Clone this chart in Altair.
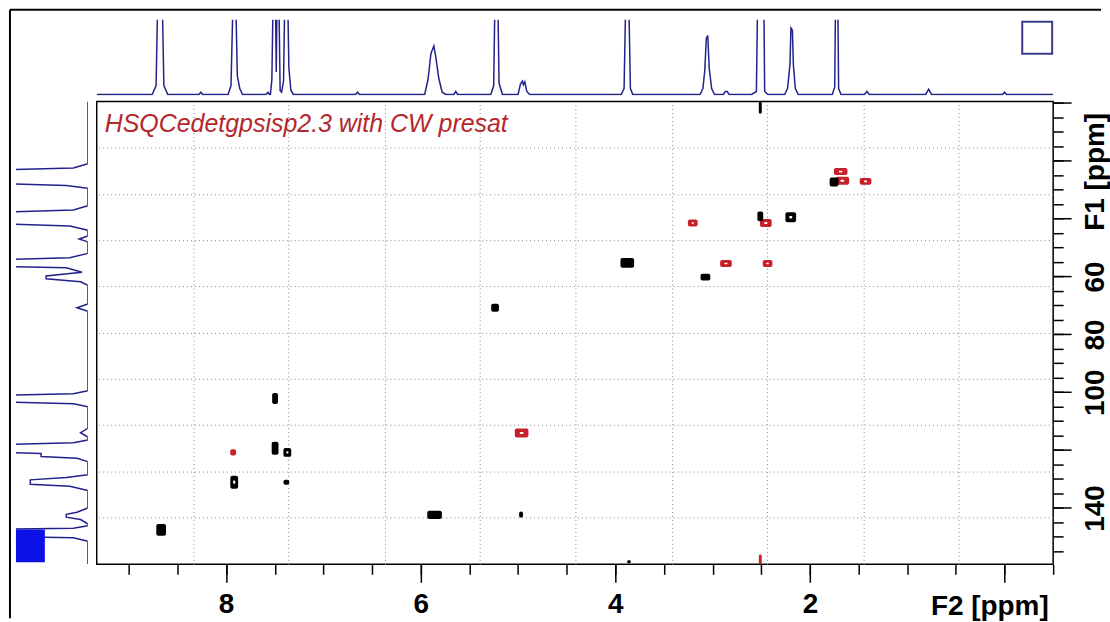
import altair as alt
import pandas as pd

# ---------------- data ----------------
plot_title = "HSQCedetgpsisp2.3 with CW presat"

# positive (black) cross peaks: F2 ppm, F1 ppm, extent in F2 / F1 (ppm)
black_f2 = [2.51, 2.197, 1.752, 3.877, 3.074, 5.236, 7.497, 7.497, 7.371, 7.917, 7.381, 5.858, 4.969, 8.668, 3.86, 2.51]
black_f1 = [39.2, 39.5, 27.3, 55.3, 60.2, 70.8, 102.2, 119.4, 120.8, 131.1, 131.1, 142.4, 142.3, 147.6, 158.6, 1.6]
black_w2 = [0.06, 0.11, 0.09, 0.14, 0.10, 0.08, 0.06, 0.07, 0.08, 0.08, 0.06, 0.15, 0.04, 0.10, 0.04, 0.03]
black_w1 = [3.4, 3.4, 3.1, 3.4, 2.4, 2.8, 3.8, 4.5, 3.1, 4.5, 1.7, 2.8, 2.1, 4.1, 1.0, 4.2]
black_ring = [0, 1, 0, 0, 0, 0, 0, 0, 1, 1, 0, 0, 0, 0, 0, 0]

# negative (red) cross peaks
red_f2 = [1.684, 1.667, 1.428, 3.204, 2.453, 2.863, 2.435, 4.963, 7.928, 2.51]
red_f1 = [23.7, 26.9, 27.1, 41.5, 41.5, 55.5, 55.5, 114.1, 120.8, 157.8]
red_w2 = [0.14, 0.14, 0.12, 0.10, 0.12, 0.12, 0.10, 0.14, 0.06, 0.03]
red_w1 = [2.4, 2.8, 2.4, 2.4, 2.8, 2.4, 2.4, 3.1, 2.1, 3.4]
red_ring = [1, 1, 1, 1, 1, 1, 1, 1, 0, 0]

# axis tick values / grid positions
f2_major = [8, 6, 4, 2, 0]
f2_minor = [9.0, 8.5, 8.0, 7.5, 7.0, 6.5, 6.0, 5.5, 5.0, 4.5, 4.0, 3.5, 3.0, 2.5, 2.0, 1.5, 1.0, 0.5, 0.0, -0.5]
f1_major = [0, 20, 40, 60, 80, 100, 120, 140]
f1_minor = [0, 5, 10, 15, 20, 25, 30, 35, 40, 45, 50, 55, 60, 65, 70, 75, 80, 85, 90, 95,
            100, 105, 110, 115, 120, 125, 130, 135, 140, 145, 150, 155]
f1_labels = [60, 80, 100, 140]
grid_f2 = [8.34, 7.36, 6.37, 5.39, 4.41, 3.42, 2.44, 1.45, 0.47]
grid_f1 = [15.5, 31.5, 47.4, 63.4, 79.4, 95.3, 111.3, 127.3, 143.2]

# top 1D projection (F2): vertices ppm / intensity
top_ppm = [
    9.33,
    8.76, 8.72, 8.70, 8.66, 8.64, 8.60,
    8.28, 8.26, 8.24,
    7.98, 7.95, 7.925, 7.905, 7.885, 7.86, 7.83,
    7.59, 7.57, 7.555,
    7.545, 7.53, 7.515, 7.495, 7.485, 7.475, 7.46, 7.445, 7.43, 7.41, 7.395, 7.37, 7.355, 7.335, 7.31,
    6.67, 6.65, 6.63,
    5.96, 5.925, 5.895, 5.865, 5.845, 5.815, 5.78, 5.74,
    5.66, 5.64, 5.62,
    5.28, 5.25, 5.235, 5.21, 5.195, 5.16,
    5.00, 4.975, 4.955, 4.945, 4.93, 4.91, 4.88,
    3.94, 3.91, 3.89, 3.865, 3.845, 3.82,
    3.13, 3.10, 3.08, 3.065, 3.05, 3.035, 3.01, 2.98,
    2.89, 2.87, 2.85, 2.83,
    2.60, 2.55, 2.535, 2.475, 2.465, 2.43,
    2.26, 2.23, 2.205, 2.195, 2.18, 2.17, 2.15, 2.12,
    1.77, 1.745, 1.735, 1.715, 1.705, 1.68,
    1.44, 1.415, 1.39,
    0.81, 0.78, 0.75,
    0.02, 0.00, -0.02,
    -0.50]
top_int = [
    0,
    0, 12, 150, 150, 12, 0,
    0, 3, 0,
    0, 12, 150, 150, 25, 8, 0,
    0, 3, 0,
    0, 20, 150, 150, 30, 150, 150, 5, 3, 18, 150, 150, 35, 6, 0,
    0, 3, 0,
    0, 20, 55, 65, 50, 22, 3, 0,
    0, 4, 0,
    0, 12, 150, 150, 15, 0,
    0, 14, 18, 13, 17, 4, 0,
    0, 8, 150, 150, 8, 0,
    0, 8, 33, 75, 79, 35, 8, 0,
    0, 4, 4, 0,
    0, 4, 150, 150, 4, 0,
    0, 8, 40, 89, 86, 40, 8, 0,
    0, 10, 150, 150, 8, 0,
    0, 4, 0,
    0, 7, 0,
    0, 3, 0,
    0]

# left 1D projection (F1): vertices ppm / intensity
left_f1 = [
    -0.5,
    21.0, 22.5, 23.3, 27.6, 28.5, 29.5,
    35.5, 37.0, 38.0, 41.5, 42.5, 44.0,
    46.0, 47.0, 48.0,
    52.0, 53.5, 54.3, 56.3, 57.0, 58.5, 59.8, 60.8, 61.8, 63.0,
    69.5, 70.8, 72.0,
    99.5, 100.5, 101.2, 103.2, 104.0, 105.0,
    112.5, 114.0, 115.5,
    116.5, 117.5, 118.3, 120.6, 121.2, 122.2, 122.8, 124.0,
    128.5, 129.5, 130.3, 131.8, 132.5, 134.0,
    140.0, 141.5, 142.2, 143.2, 144.0, 145.5,
    146.2, 147.0, 147.4, 149.8, 150.3, 151.5,
    159.5]
left_int = [
    0,
    0, 20, 150, 150, 30, 0,
    0, 20, 150, 150, 25, 0,
    0, 12, 0,
    0, 25, 150, 150, 30, 8, 58, 58, 10, 0,
    0, 15, 0,
    0, 20, 150, 150, 20, 0,
    0, 10, 0,
    0, 20, 150, 150, 65, 65, 15, 0,
    0, 30, 80, 80, 25, 0,
    0, 15, 30, 30, 10, 0,
    0, 20, 150, 150, 20, 0,
    0]

# ---------------- tables ----------------
f2 = red_f2 + black_f2
f1 = red_f1 + black_f1
w2 = red_w2 + black_w2
w1 = red_w1 + black_w1
ring = red_ring + black_ring
sign = ["neg"] * len(red_f2) + ["pos"] * len(black_f2)
peaks = pd.DataFrame({"f2": f2, "f1": f1, "w2": w2, "w1": w1, "ring": ring, "sign": sign})
peaks["x0"] = peaks.f2 + peaks.w2 / 2
peaks["x1"] = peaks.f2 - peaks.w2 / 2
peaks["y0"] = peaks.f1 - peaks.w1 / 2
peaks["y1"] = peaks.f1 + peaks.w1 / 2
rings = peaks[peaks.ring == 1].copy()
rings["ix0"] = rings.f2 + rings.w2 * 0.14
rings["ix1"] = rings.f2 - rings.w2 * 0.14
rings["iy0"] = rings.f1 - rings.w1 * 0.12
rings["iy1"] = rings.f1 + rings.w1 * 0.12

top_df = pd.DataFrame({"ppm": top_ppm, "inten": top_int, "idx": range(len(top_ppm))})
left_df = pd.DataFrame({"f1": left_f1, "inten": left_int, "idx": range(len(left_f1))})
one = pd.DataFrame({"k": [0]})

NAVY = "#22228a"
FONT = "Liberation Sans"
W, H = 959, 464
TOP_H, LEFT_W = 76, 72

xs = alt.Scale(domain=[-0.5, 9.33], reverse=True, nice=False, zero=False)
ys = alt.Scale(domain=[-0.5, 159.5], reverse=True, nice=False, zero=False)

# ---------------- main 2D panel ----------------
base = alt.Chart(peaks)
gridkw = dict(grid=True, ticks=False, labels=False, domain=False, title=None,
              gridDash=[1, 3], gridColor="#858585", gridWidth=1)
grid = base.mark_point(opacity=0).encode(
    x=alt.X("f2:Q", scale=xs, axis=alt.Axis(orient="bottom", values=grid_f2, **gridkw)),
    y=alt.Y("f1:Q", scale=ys, axis=alt.Axis(orient="left", values=grid_f1, **gridkw)),
)
minorkw = dict(grid=False, labels=False, domain=False, title=None, tickSize=10,
               tickColor="black", tickWidth=1.5)
minor = base.mark_point(opacity=0).encode(
    x=alt.X("f2:Q", scale=xs, axis=alt.Axis(orient="bottom", values=f2_minor, **minorkw)),
    y=alt.Y("f1:Q", scale=ys, axis=alt.Axis(orient="right", values=f1_minor, **minorkw)),
)
labkw = dict(grid=False, domain=False, tickSize=18, tickColor="black", tickWidth=1.5,
             labelFont=FONT, labelFontSize=28, labelFontWeight="bold", labelColor="black",
             labelOverlap=False, labelFlush=False,
             titleFont=FONT, titleFontSize=28, titleFontWeight="bold", titleColor="black")
xaxis = alt.Axis(orient="bottom", values=f2_major, labelExpr="datum.value == 0 ? '' : datum.label",
                 labelPadding=30, labelBaseline="alphabetic", labelAlign="center",
                 title="F2 [ppm]", titleX=895, titleY=50, titleAlign="center",
                 titleBaseline="alphabetic", titleAnchor="start", **labkw)
yaxis = alt.Axis(orient="right", values=f1_major,
                 labelExpr="indexof([" + ",".join(str(v) for v in f1_labels) + "], datum.value) >= 0 ? datum.label : ''",
                 labelAngle=270, labelAlign="center", labelBaseline="alphabetic", labelPadding=32,
                 title="F1 [ppm]", titleAngle=270, titleX=50, titleY=70, titleAlign="center",
                 titleBaseline="alphabetic", titleAnchor="start", **labkw)
cross = base.mark_rect(cornerRadius=2).encode(
    x=alt.X("x0:Q", scale=xs, axis=xaxis),
    x2="x1:Q",
    y=alt.Y("y0:Q", scale=ys, axis=yaxis),
    y2="y1:Q",
    color=alt.Color("sign:N", scale=alt.Scale(domain=["neg", "pos"], range=["#c8202a", "#000000"]), legend=None),
)
holes = alt.Chart(rings).mark_rect(color="white", cornerRadius=1).encode(
    x=alt.X("ix0:Q", scale=xs, axis=None), x2="ix1:Q",
    y=alt.Y("iy0:Q", scale=ys, axis=None), y2="iy1:Q",
)
label = alt.Chart(pd.DataFrame({"t": [plot_title]})).mark_text(
    align="left", baseline="alphabetic", font=FONT, fontSize=25, fontStyle="italic", color="#b3282d"
).encode(x=alt.value(8), y=alt.value(31), text="t:N")

main = alt.layer(grid, minor, cross, holes, label).resolve_axis(
    x="independent", y="independent"
).properties(width=W, height=H, view=alt.ViewBackground(stroke="black", strokeWidth=1.5))

# ---------------- projections ----------------
top = alt.Chart(top_df).mark_line(clip=True, color=NAVY, strokeWidth=1.5).encode(
    x=alt.X("ppm:Q", scale=xs, axis=None),
    y=alt.Y("inten:Q", scale=alt.Scale(domain=[-1.5, 100], nice=False, zero=False), axis=None),
    order="idx:Q",
)
box = alt.Chart(one).mark_rect(fillOpacity=0, stroke="#3a3a8c", strokeWidth=2).encode(
    x=alt.value(928), x2=alt.value(958), y=alt.value(2), y2=alt.value(34)
)
top_panel = alt.layer(top, box).properties(width=W, height=TOP_H)

left = alt.Chart(left_df).mark_line(clip=True, color=NAVY, strokeWidth=1.5).encode(
    x=alt.X("inten:Q", scale=alt.Scale(domain=[0, 100], reverse=True, nice=False, zero=False), axis=None),
    y=alt.Y("f1:Q", scale=ys, axis=None),
    order="idx:Q",
)
blue = alt.Chart(one).mark_rect(color="#0b12e8").encode(
    x=alt.value(0), x2=alt.value(29), y=alt.value(429), y2=alt.value(462)
)
left_panel = alt.layer(left, blue).properties(width=LEFT_W, height=H)

# corner panel carrying the outer frame lines of the picture
frame_v = alt.Chart(one).mark_rule(color="black", strokeWidth=2).encode(
    x=alt.value(-6), y=alt.value(-10), y2=alt.value(600))
frame_h = alt.Chart(one).mark_rule(color="black", strokeWidth=2).encode(
    x=alt.value(-6), x2=alt.value(1088), y=alt.value(-10))
corner = alt.layer(frame_v, frame_h).properties(width=LEFT_W, height=TOP_H)

chart = alt.concat(
    corner, top_panel, left_panel, main,
    columns=2, spacing={"row": 6, "column": 9}, bounds="flush",
).properties(
    padding={"left": 9, "top": 8, "right": 0, "bottom": 0},
    background="white",
).configure_view(stroke=None)

chart.save("out.html", embed_options={"renderer": "svg", "actions": False})
